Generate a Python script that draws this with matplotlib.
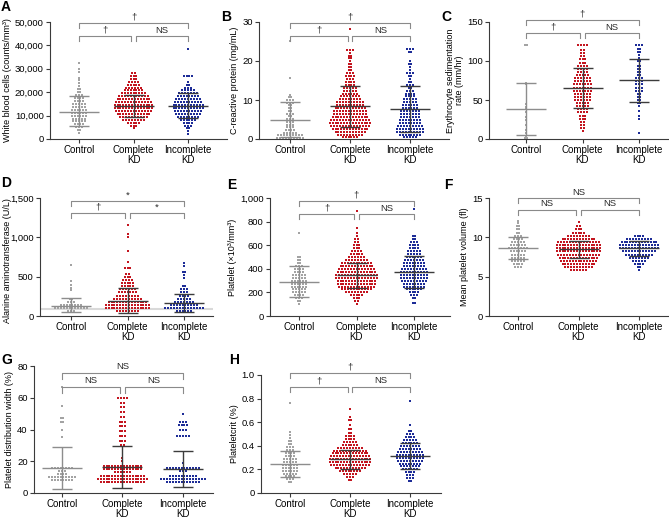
import numpy as np
import matplotlib
matplotlib.use("Agg")
import matplotlib.pyplot as plt

plt.rcParams["font.family"] = ["Liberation Sans", "DejaVu Sans"]

groups = ["Control", "Complete\nKD", "Incomplete\nKD"]
colors = ["#a3a3a3", "#c3151f", "#1d2c97"]

# A - white blood cells
wbc_ctrl_y = [2500, 3750, 5000, 6250, 7500, 8750, 10000, 11250, 12500, 13750, 15000, 16250,
              17500, 18750, 20000, 21250, 22500, 23750, 25000, 26250, 28750, 30000, 32500]
wbc_ctrl_n = [1, 2, 3, 4, 5, 5, 6, 6, 6, 5, 5, 4, 4, 3, 2, 2, 1, 1, 1, 1, 1, 1, 1]
wbc_comp_y = [4500, 5750, 7000, 8250, 9500, 10750, 12000, 13250, 14500, 15750, 17000, 18250,
              19500, 20750, 22000, 23250, 24500, 25750, 27000, 28250]
wbc_comp_n = [1, 3, 5, 8, 10, 12, 13, 14, 14, 13, 12, 11, 9, 7, 6, 5, 4, 3, 3, 2]
wbc_inc_y = [2000, 3250, 4500, 5750, 7000, 8250, 9500, 10750, 12000, 13250, 14500, 15750,
             17000, 18250, 19500, 20750, 22000, 23250, 24500, 27000, 38500]
wbc_inc_n = [1, 1, 2, 3, 4, 6, 8, 9, 10, 11, 11, 10, 9, 8, 7, 5, 3, 2, 1, 4, 1]
wbc_mean = [11700, 14200, 14300]
wbc_hi = [18200, 18800, 19700]
wbc_lo = [5400, 9600, 8900]

# B - C-reactive protein
crp_ctrl_y = [0.2, 0.9, 1.6, 2.3, 3.0, 3.7, 4.4, 5.1, 5.8, 6.5, 7.2, 7.9, 8.6, 9.3, 10.0,
              10.7, 11.4, 15.7, 25.0]
crp_ctrl_n = [10, 9, 5, 4, 3, 3, 3, 3, 2, 3, 2, 2, 2, 3, 3, 2, 1, 1, 1]
crp_comp_y = [0.4, 1.15, 1.9, 2.65, 3.4, 4.15, 4.9, 5.65, 6.4, 7.15, 7.9, 8.65, 9.4, 10.15,
              10.9, 11.65, 12.4, 13.15, 13.9, 14.65, 15.4, 16.15, 16.9, 17.65, 18.4, 19.15,
              19.9, 20.65, 21.4, 22.15, 22.9, 28.1]
crp_comp_n = [6, 9, 11, 13, 14, 15, 14, 13, 12, 12, 11, 10, 10, 8, 7, 6, 5, 5, 4, 4, 3, 4,
              3, 2, 2, 2, 1, 2, 2, 1, 3, 1]
crp_inc_y = [0.4, 1.15, 1.9, 2.65, 3.4, 4.15, 4.9, 5.65, 6.4, 7.15, 7.9, 8.65, 9.4, 10.15,
             10.9, 11.65, 12.4, 13.15, 13.9, 14.65, 15.4, 16.15, 16.9, 17.65, 18.4, 19.15,
             20.0, 22.2, 23.0]
crp_inc_n = [5, 8, 10, 10, 9, 8, 8, 7, 7, 7, 6, 6, 5, 5, 4, 4, 3, 2, 3, 2, 1, 2, 3, 1, 1,
             2, 1, 2, 3]
crp_mean = [4.9, 8.4, 7.8]
crp_hi = [9.5, 13.5, 13.7]
crp_lo = [0.5, 3.2, 1.9]

# C - erythrocyte sedimentation rate
esr_ctrl_y = [1, 4, 8, 12, 18, 24, 28, 35, 38, 41, 45, 70, 72, 120]
esr_ctrl_n = [2, 1, 1, 1, 1, 1, 1, 1, 1, 1, 1, 1, 1, 2]
esr_comp_y = [10, 14, 18, 22, 26, 30, 34, 38, 42, 46, 50, 54, 58, 62, 66, 70, 74, 78, 82,
              86, 90, 94, 98, 102, 106, 110, 114, 120]
esr_comp_n = [1, 2, 2, 2, 3, 3, 4, 4, 5, 5, 6, 6, 6, 7, 7, 7, 6, 6, 5, 4, 4, 4, 3, 3, 2, 2, 2, 4]
esr_inc_y = [8, 26, 30, 36, 42, 46, 50, 54, 58, 62, 66, 70, 74, 78, 82, 86, 90, 94, 100,
             104, 108, 112, 116, 120]
esr_inc_n = [1, 1, 1, 1, 1, 2, 2, 2, 2, 3, 3, 3, 3, 3, 2, 2, 2, 2, 2, 1, 1, 2, 2, 3]
esr_mean = [38, 65.5, 75]
esr_hi = [72, 91, 103]
esr_lo = [5, 40, 47]

# D - alanine aminotransferase
alt_ctrl_y = [60, 100, 140, 180, 220, 330, 360, 400, 440, 650]
alt_ctrl_n = [3, 12, 8, 3, 2, 1, 1, 1, 1, 1]
alt_comp_y = [60, 100, 140, 180, 220, 260, 300, 340, 380, 420, 460, 500, 540, 610, 690,
              830, 1000, 1040, 1160]
alt_comp_n = [8, 16, 16, 14, 10, 8, 7, 6, 5, 5, 4, 3, 2, 3, 1, 1, 1, 1, 1]
alt_inc_y = [60, 100, 140, 180, 220, 260, 300, 340, 380, 480, 520, 560, 640, 680]
alt_inc_n = [6, 14, 10, 7, 5, 4, 3, 3, 2, 1, 1, 2, 1, 1]
alt_mean = [127, 195, 160]
alt_hi = [229, 360, 276]
alt_lo = [51, 35, 55]
alt_ref = 90

# E - platelet
plt_ctrl_y = [100, 125, 150, 175, 200, 225, 250, 275, 300, 325, 350, 375, 400, 425, 450,
              475, 500, 700]
plt_ctrl_n = [1, 2, 3, 4, 5, 5, 6, 6, 6, 5, 5, 4, 4, 3, 2, 2, 2, 1]
plt_comp_y = [100, 125, 150, 175, 200, 225, 250, 275, 300, 325, 350, 375, 400, 425, 450,
              475, 500, 525, 550, 575, 600, 625, 650, 675, 700, 750, 890]
plt_comp_n = [1, 2, 3, 5, 8, 11, 13, 14, 14, 15, 15, 14, 13, 12, 11, 8, 6, 5, 4, 3, 3, 2,
              2, 1, 1, 1, 1]
plt_inc_y = [110, 150, 175, 200, 225, 250, 275, 300, 325, 350, 375, 400, 425, 450, 475,
             500, 525, 550, 575, 600, 625, 650, 675, 910]
plt_inc_n = [2, 2, 3, 4, 6, 8, 8, 9, 10, 10, 10, 9, 8, 8, 7, 6, 5, 5, 4, 4, 3, 2, 2, 1]
plt_mean = [290, 345, 375]
plt_hi = [422, 447, 512]
plt_lo = [160, 237, 237]

# F - mean platelet volume
mpv_ctrl_y = [6.2, 6.6, 7.0, 7.4, 7.8, 8.2, 8.6, 9.0, 9.4, 9.8, 10.2, 10.6, 11.0, 11.4, 11.8, 12.1]
mpv_ctrl_n = [3, 4, 5, 5, 5, 6, 7, 6, 5, 4, 3, 2, 2, 2, 1, 1]
mpv_comp_y = [5.8, 6.2, 6.6, 7.0, 7.4, 7.8, 8.2, 8.6, 9.0, 9.4, 9.8, 10.2, 10.6, 11.0, 11.4, 12.0]
mpv_comp_n = [6, 10, 12, 13, 14, 15, 16, 16, 16, 15, 12, 8, 5, 3, 2, 1]
mpv_inc_y = [5.8, 6.2, 6.6, 7.0, 7.4, 7.8, 8.2, 8.6, 9.0, 9.4, 9.8, 10.2]
mpv_inc_n = [1, 2, 4, 5, 7, 10, 12, 14, 14, 13, 9, 4]
mpv_mean = [8.6, 8.5, 8.6]
mpv_hi = [10.0, 9.5, 9.5]
mpv_lo = [7.3, 7.4, 7.6]

# G - platelet distribution width
pdw_ctrl_y = [8, 10, 12, 14, 16, 35, 40, 45, 47, 55, 67]
pdw_ctrl_n = [8, 10, 4, 3, 8, 1, 1, 2, 2, 1, 1]
pdw_comp_y = [7, 9, 11, 13, 15, 17, 20, 22, 30, 33, 36, 39, 42, 45, 48, 51, 54, 57, 60]
pdw_comp_n = [16, 18, 16, 6, 14, 14, 1, 1, 2, 3, 3, 3, 3, 3, 2, 2, 2, 2, 4]
pdw_inc_y = [7, 9, 11, 14, 16, 19, 36, 40, 43, 45, 50]
pdw_inc_n = [12, 16, 10, 3, 12, 1, 5, 3, 4, 3, 1]
pdw_mean = [15.5, 16.2, 15.0]
pdw_hi = [28.8, 29.5, 26.5]
pdw_lo = [2.5, 3.2, 3.5]

# H - plateletcrit
pct_ctrl_y = [0.09, 0.115, 0.14, 0.165, 0.19, 0.215, 0.24, 0.265, 0.29, 0.315, 0.34, 0.365,
              0.39, 0.415, 0.44, 0.465, 0.49, 0.52, 0.76]
pct_ctrl_n = [2, 3, 4, 5, 6, 6, 6, 5, 5, 4, 4, 3, 3, 2, 2, 1, 1, 1, 1]
pct_comp_y = [0.11, 0.135, 0.16, 0.185, 0.21, 0.235, 0.26, 0.285, 0.31, 0.335, 0.36, 0.385,
              0.41, 0.435, 0.46, 0.485, 0.51, 0.54, 0.58, 0.62, 0.64, 0.71]
pct_comp_n = [2, 3, 5, 8, 11, 14, 15, 15, 14, 13, 12, 9, 6, 5, 4, 4, 2, 2, 1, 2, 1, 1]
pct_inc_y = [0.1, 0.125, 0.15, 0.175, 0.2, 0.225, 0.25, 0.275, 0.3, 0.325, 0.35, 0.375,
             0.4, 0.425, 0.45, 0.475, 0.5, 0.525, 0.58, 0.78]
pct_inc_n = [2, 3, 3, 4, 6, 7, 8, 9, 10, 10, 9, 8, 7, 6, 5, 4, 3, 2, 1, 1]
pct_mean = [0.245, 0.285, 0.31]
pct_hi = [0.355, 0.365, 0.42]
pct_lo = [0.135, 0.205, 0.2]

W, H = 669, 519
fig = plt.figure(figsize=(6.69, 5.19), dpi=100)
AX = "#3a3a3a"
BR = "#8a8a8a"


def panel(box, cats, ymax, yticks, ylabels, ylabel, rows, stats, sig, brk, letter, lxy):
    x0, x1, yt, yb = box
    ax = fig.add_axes([x0 / W, 1 - yb / H, (x1 - x0) / W, (yb - yt) / H])
    sp = (cats[2] - cats[0]) / 2  # px per category
    ax.set_xlim(-(cats[0] - x0) / sp, 2 + (x1 - cats[2]) / sp)
    ax.set_ylim(0, ymax)
    dx = 2.9 / sp
    for i, (ys, ns) in enumerate(rows):
        xs, yy = [], []
        for y, n in zip(ys, ns):
            xs.extend(i + (np.arange(n) - (n - 1) / 2) * dx)
            yy.extend([y] * n)
        ax.scatter(xs, yy, s=2.5, marker="s", color=colors[i], linewidths=0,
                   clip_on=False, zorder=2)
    means, hi, lo = stats
    for i in range(3):
        lc = "#8d8d8d" if i == 0 else "#3c3c3c"
        kw = dict(color=lc, lw=1.0, zorder=3, solid_capstyle="butt")
        ax.plot([i - 20 / sp, i + 20 / sp], [means[i]] * 2, **kw)
        ax.plot([i - 10 / sp, i + 10 / sp], [hi[i]] * 2, **kw)
        ax.plot([i - 10 / sp, i + 10 / sp], [lo[i]] * 2, **kw)
        ax.plot([i, i], [lo[i], hi[i]], **kw)
    # significance brackets
    top, low = brk
    tk = 0.045 * ymax
    g = 2.2 / sp
    spans = [(0, 2, top), (0, 1 - g, low), (1 + g, 2, low)]
    for (a, b, f), s in zip(spans, sig):
        y = f * ymax
        ax.plot([a, a, b, b], [y - tk, y, y, y - tk], color=BR, lw=0.8, clip_on=False)
        ax.text((a + b) / 2, y + 0.012 * ymax, s, ha="center", va="bottom",
                fontsize=6.8, color="#2a2a2a")
    for side in ["top", "right"]:
        ax.spines[side].set_visible(False)
    for side in ["left", "bottom"]:
        ax.spines[side].set_color(AX)
        ax.spines[side].set_linewidth(0.8)
    ax.set_xticks([0, 1, 2])
    ax.set_xticklabels(groups, fontsize=7, linespacing=1.0)
    ax.set_yticks(yticks)
    ax.set_yticklabels(ylabels, fontsize=6.8)
    ax.tick_params(length=3, width=0.8, color=AX, pad=1.5)
    ax.set_ylabel(ylabel, fontsize=6.5, labelpad=2, linespacing=1.0)
    fig.text(lxy[0] / W, 1 - lxy[1] / H, letter, fontsize=10, fontweight="bold",
             ha="left", va="top")
    return ax


panel((50, 227, 22, 139), (79, 133, 188), 50000, [0, 10000, 20000, 30000, 40000, 50000],
      ["0", "10,000", "20,000", "30,000", "40,000", "50,000"],
      "White blood cells (counts/mm³)",
      [(wbc_ctrl_y, wbc_ctrl_n), (wbc_comp_y, wbc_comp_n), (wbc_inc_y, wbc_inc_n)],
      (wbc_mean, wbc_hi, wbc_lo), ["†", "†", "NS"], (0.99, 0.88), "A", (1, 0))

panel((259, 449, 22, 139), (290, 350, 410), 30, [0, 10, 20, 30], ["0", "10", "20", "30"],
      "C-reactive protein (mg/mL)",
      [(crp_ctrl_y, crp_ctrl_n), (crp_comp_y, crp_comp_n), (crp_inc_y, crp_inc_n)],
      (crp_mean, crp_hi, crp_lo), ["†", "†", "NS"], (0.99, 0.88), "B", (221, 10))

panel((489, 668, 22, 139), (526, 583, 639), 150, [0, 50, 100, 150], ["0", "50", "100", "150"],
      "Erythrocyte sedimentation\nrate (mm/hr)",
      [(esr_ctrl_y, esr_ctrl_n), (esr_comp_y, esr_comp_n), (esr_inc_y, esr_inc_n)],
      (esr_mean, esr_hi, esr_lo), ["†", "†", "NS"], (1.02, 0.905), "C", (441, 10))

axd = panel((40, 213, 198, 316), (71, 128, 184), 1500, [0, 500, 1000, 1500],
            ["0", "500", "1,000", "1,500"], "Alanine aminotransferase (U/L)",
            [(alt_ctrl_y, alt_ctrl_n), (alt_comp_y, alt_comp_n), (alt_inc_y, alt_inc_n)],
            (alt_mean, alt_hi, alt_lo), ["*", "†", "*"], (0.975, 0.873), "D", (1, 176))
axd.axhline(alt_ref, color="#d9d9d9", lw=1.5, zorder=1)
axd.yaxis.set_label_coords((12 - 40) / 173, 0.47)

panel((270, 450, 198, 316), (299, 357, 414), 1000, [0, 200, 400, 600, 800, 1000],
      ["0", "200", "400", "600", "800", "1,000"], "Platelet (×10³/mm³)",
      [(plt_ctrl_y, plt_ctrl_n), (plt_comp_y, plt_comp_n), (plt_inc_y, plt_inc_n)],
      (plt_mean, plt_hi, plt_lo), ["†", "†", "NS"], (0.975, 0.864), "E", (227, 178))

panel((489, 668, 198, 316), (518, 578, 639), 15, [0, 5, 10, 15], ["0", "5", "10", "15"],
      "Mean platelet volume (fl)",
      [(mpv_ctrl_y, mpv_ctrl_n), (mpv_comp_y, mpv_comp_n), (mpv_inc_y, mpv_inc_n)],
      (mpv_mean, mpv_hi, mpv_lo), ["NS", "NS", "NS"], (1.0, 0.9), "F", (444, 178))

panel((34, 213, 366, 493), (62, 122, 183), 80, [0, 20, 40, 60, 80],
      ["0", "20", "40", "60", "80"], "Platelet distribution width (%)",
      [(pdw_ctrl_y, pdw_ctrl_n), (pdw_comp_y, pdw_comp_n), (pdw_inc_y, pdw_inc_n)],
      (pdw_mean, pdw_hi, pdw_lo), ["NS", "NS", "NS"], (0.945, 0.835), "G", (1, 353))

panel((261, 441, 375, 493), (290, 350, 410), 1.0, [0, 0.2, 0.4, 0.6, 0.8, 1.0],
      ["0", "0.2", "0.4", "0.6", "0.8", "1.0"], "Plateletcrit (%)",
      [(pct_ctrl_y, pct_ctrl_n), (pct_comp_y, pct_comp_n), (pct_inc_y, pct_inc_n)],
      (pct_mean, pct_hi, pct_lo), ["†", "†", "NS"], (1.017, 0.9), "H", (229, 353))

fig.savefig("out.png", dpi=100)
